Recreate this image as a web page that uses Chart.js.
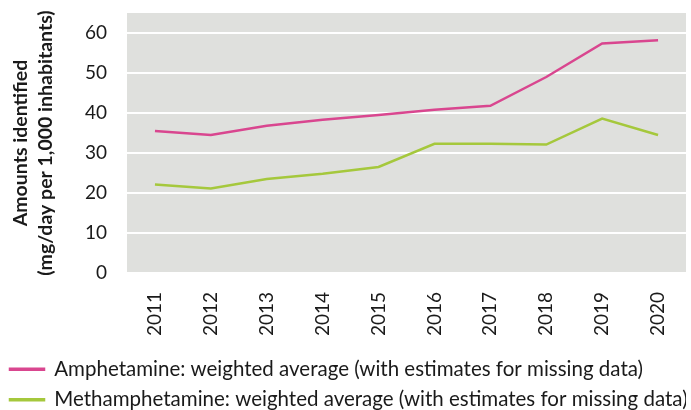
<!DOCTYPE html>
<html>
<head>
<meta charset="utf-8">
<script src="https://cdn.jsdelivr.net/npm/chart.js@4"></script>
<style>
  html, body { margin: 0; padding: 0; background: #fff; }
  #wrap { width: 691px; height: 410px; }
</style>
</head>
<body>
<div id="wrap"><canvas id="mycanvas" width="691" height="410"></canvas></div>
<script>
var years = ['2011', '2012', '2013', '2014', '2015', '2016', '2017', '2018', '2019', '2020'];
var amphetamine = [35.5, 34.5, 36.8, 38.3, 39.5, 40.8, 41.8, 49.0, 57.4, 58.2];
var methamphetamine = [22.1, 21.1, 23.5, 24.8, 26.5, 32.3, 32.3, 32.1, 38.6, 34.5];
var yTicks = [0, 10, 20, 30, 40, 50, 60];

// grey plot background
var plotBg = {
	id: 'plotBg',
	beforeDraw: function(chart) {
		var a = chart.chartArea;
		var ctx = chart.ctx;
		ctx.save();
		ctx.fillStyle = '#dfe0dd';
		ctx.fillRect(a.left, a.top, a.right - a.left, a.bottom - a.top);
		ctx.restore();
	}
};

var font = "Lato, 'Open Sans', sans-serif";

var chartdata = {
	labels: years,
	datasets: [
		{
			label: 'Amphetamine: weighted average (with estimates for missing data)',
			data: amphetamine,
			borderColor: '#d9468f',
			backgroundColor: '#d9468f',
			borderWidth: 2.5,
			pointRadius: 0,
			tension: 0
		},
		{
			label: 'Methamphetamine: weighted average (with estimates for missing data)',
			data: methamphetamine,
			borderColor: '#a5c83c',
			backgroundColor: '#a5c83c',
			borderWidth: 2.5,
			pointRadius: 0,
			tension: 0
		}
	]
};

var ctx = document.getElementById('mycanvas');

var lineGraph = new Chart(ctx, {
	type: 'line',
	data: chartdata,
	plugins: [plotBg],
	options: {
		responsive: false,
		animation: false,
		layout: { padding: { top: 13, right: 5, left: 0, bottom: -10 } },
		scales: {
			x: {
				offset: true,
				afterFit: function(axis) {
					axis.height = 76;
					axis.paddingLeft = 0;
					axis.paddingRight = 0;
				},
				grid: { display: false },
				border: { display: false },
				ticks: {
					color: '#1a1a1a',
					font: { family: font, size: 19 },
					minRotation: 90,
					maxRotation: 90,
					padding: 11
				}
			},
			y: {
				min: 0,
				max: 65,
				afterBuildTicks: function(axis) {
					axis.ticks = yTicks.map(function(v) { return { value: v }; });
				},
				afterFit: function(axis) {
					axis.width = 127;
					axis.paddingTop = 0;
					axis.paddingBottom = 0;
				},
				grid: { color: '#ffffff', lineWidth: 2, drawTicks: false },
				border: { display: false },
				ticks: {
					color: '#1a1a1a',
					font: { family: font, size: 19 },
					padding: 20
				},
				title: {
					display: true,
					text: ['Amounts identified', '(mg/day per 1,000 inhabitants)'],
					color: '#1a1a1a',
					font: { family: font, size: 19.5, weight: 'bold', lineHeight: 1.28 },
					padding: { top: 8, bottom: 0 }
				}
			}
		},
		plugins: {
			legend: {
				position: 'bottom',
				align: 'start',
				labels: {
					color: '#1a1a1a',
					font: { family: font, size: 20.5 },
					boxWidth: 34,
					boxHeight: 1,
					padding: 10
				}
			},
			tooltip: { enabled: false }
		}
	}
});
</script>
</body>
</html>
